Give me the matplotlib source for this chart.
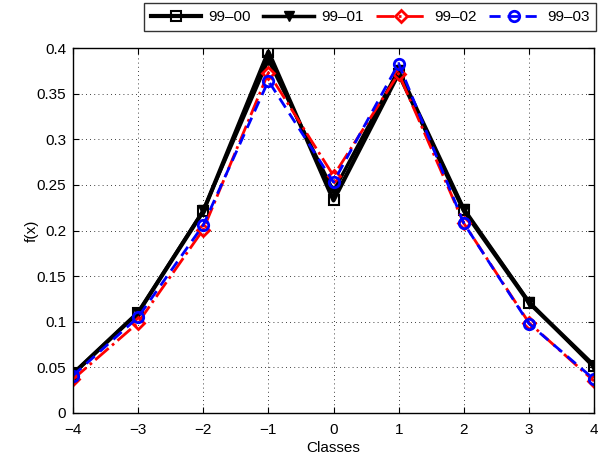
import matplotlib
matplotlib.use("Agg")
import matplotlib.pyplot as plt
import numpy as np

plt.rcParams['font.family'] = ['Liberation Sans', 'DejaVu Sans']

classes = [-4, -3, -2, -1, 0, 1, 2, 3, 4]
f_99_00 = [0.043, 0.110, 0.221, 0.396, 0.233, 0.372, 0.222, 0.121, 0.052]
f_99_01 = [0.043, 0.110, 0.222, 0.387, 0.243, 0.376, 0.224, 0.122, 0.050]
f_99_02 = [0.037, 0.099, 0.201, 0.373, 0.260, 0.372, 0.208, 0.099, 0.035]
f_99_03 = [0.041, 0.105, 0.206, 0.364, 0.253, 0.383, 0.208, 0.098, 0.037]
labels = ['99\u201300', '99\u201301', '99\u201302', '99\u201303']

fig = plt.figure(figsize=(5.98, 4.63), dpi=100)
ax = fig.add_axes([73/598, 50/463, 521/598, 365/463])

ax.plot(classes, f_99_00, color='black', lw=3, marker='s', ms=6.5,
        mfc='none', mec='black', mew=1.5, label=labels[0])
ax.plot(classes, f_99_01, color='black', lw=2.5, marker='v', ms=7.5,
        mfc='black', mec='black', label=labels[1])
ax.plot(classes, f_99_02, color='red', lw=2, ls='-.', marker='D', ms=6.5,
        mfc='none', mec='red', mew=2, label=labels[2])
ax.plot(classes, f_99_03, color='blue', lw=2, ls=(0, (4, 2.5)), marker='o', ms=7.5,
        mfc='none', mec='blue', mew=2, label=labels[3])

ax.set_xlim(-4, 4)
ax.set_ylim(0, 0.4)
ax.set_xticks(np.arange(-4, 5, 1))
ax.set_yticks(np.arange(0, 0.401, 0.05))
ax.set_xticklabels(['\u22124', '\u22123', '\u22122', '\u22121', '0', '1', '2', '3', '4'])
ax.set_yticklabels(['0', '0.05', '0.1', '0.15', '0.2', '0.25', '0.3', '0.35', '0.4'])
ax.tick_params(direction='in', top=True, right=True, labelsize=11, length=4)
ax.tick_params(axis='x', pad=7)
ax.tick_params(axis='y', pad=5)
ax.grid(True, color='black', ls=(0, (1, 4)), lw=0.6)
for s in ax.spines.values():
    s.set_linewidth(1.0)
ax.set_xlabel('Classes', fontsize=11, labelpad=3)
ax.set_ylabel('f(x)', fontsize=11, labelpad=-2)

leg = fig.legend(loc='center', bbox_to_anchor=(370/598, 1 - 17/463), ncol=4,
                 fontsize=11, frameon=True, fancybox=False, edgecolor='black',
                 handlelength=3.3, columnspacing=0.8, handletextpad=0.5,
                 borderpad=0.45)
leg.get_frame().set_linewidth(1.0)

fig.savefig('out.png', dpi=100)
